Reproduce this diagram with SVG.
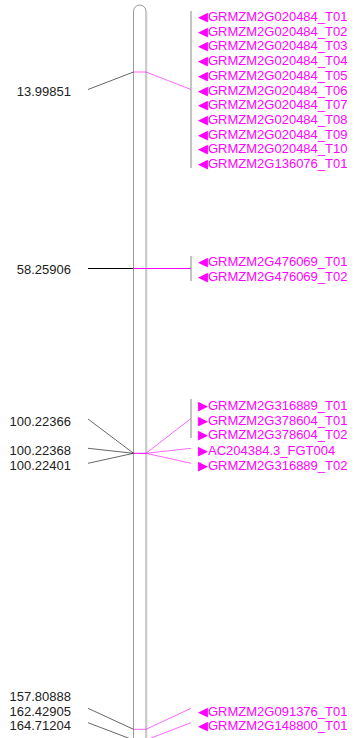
<svg xmlns="http://www.w3.org/2000/svg" width="354" height="738" viewBox="0 0 354 738">
<style>
text{font-family:"Liberation Sans","DejaVu Sans",Arial,sans-serif;font-size:13px}
.lbl{fill:#222;text-anchor:end}
.gene{fill:#ff00ff}
.kl{stroke:#000;stroke-width:0.6;fill:none}
.ml{stroke:#ff00ff;stroke-width:0.6;fill:none}
.bar{stroke:#888;stroke-width:1;fill:none}
</style>
<rect width="354" height="738" fill="#fff"/>
<g id="chromosome">
<path d="M133.5,740 V11.3 A6.25,6.25 0 0 1 146,11.3 V740" fill="none" stroke="#9a9a9a" stroke-width="1"/>
<line x1="146.3" y1="11.5" x2="146.3" y2="740" stroke="#cccccc" stroke-width="2"/>
</g>
<g id="connectors">
<polyline class="kl" points="88,89.5 133.5,72"/>
<polyline class="ml" points="133.5,72 146,72 191,89.5"/>
<polyline class="kl" points="88,268.5 133.5,268.5" style="stroke-width:1"/>
<polyline class="ml" points="133.5,268.5 191,268.5" style="stroke-width:1"/>
<polyline class="kl" points="88,419 133.5,453.3"/>
<polyline class="kl" points="88,448.3 133.5,453.3"/>
<polyline class="kl" points="88,463.3 133.5,453.3"/>
<polyline class="ml" points="133.5,453.3 146,453.3" style="stroke-width:1"/>
<polyline class="ml" points="146,453.3 191,418.5"/>
<polyline class="ml" points="146,453.3 191,448.3"/>
<polyline class="ml" points="146,453.3 191,463.3"/>
<polyline class="kl" points="88,708.3 133.5,729.3"/>
<polyline class="kl" points="88,722.7 133.5,740"/>
<polyline class="ml" points="133.5,729.3 146,729.3 191,708.3"/>
<polyline class="ml" points="146,740 191,722.7"/>
</g>
<g id="pos1">
<text class="lbl" x="71" y="95.7">13.99851</text>
</g>
<g id="genes1">
<line class="bar" x1="191" y1="11" x2="191" y2="168"/>
<text class="gene" x="198" y="21">◀GRMZM2G020484_T01</text>
<text class="gene" x="198" y="35.7">◀GRMZM2G020484_T02</text>
<text class="gene" x="198" y="50.4">◀GRMZM2G020484_T03</text>
<text class="gene" x="198" y="65.1">◀GRMZM2G020484_T04</text>
<text class="gene" x="198" y="79.8">◀GRMZM2G020484_T05</text>
<text class="gene" x="198" y="94.5">◀GRMZM2G020484_T06</text>
<text class="gene" x="198" y="109.2">◀GRMZM2G020484_T07</text>
<text class="gene" x="198" y="123.9">◀GRMZM2G020484_T08</text>
<text class="gene" x="198" y="138.6">◀GRMZM2G020484_T09</text>
<text class="gene" x="198" y="153.3">◀GRMZM2G020484_T10</text>
<text class="gene" x="198" y="168">◀GRMZM2G136076_T01</text>
</g>
<g id="pos2">
<text class="lbl" x="71" y="274">58.25906</text>
</g>
<g id="genes2">
<line class="bar" x1="191" y1="256" x2="191" y2="281"/>
<text class="gene" x="198" y="265.8">◀GRMZM2G476069_T01</text>
<text class="gene" x="198" y="280.5">◀GRMZM2G476069_T02</text>
</g>
<g id="pos3">
<text class="lbl" x="71" y="426.4">100.22366</text>
<text class="lbl" x="71" y="455.4">100.22368</text>
<text class="lbl" x="71" y="470.4">100.22401</text>
</g>
<g id="genes3">
<line class="bar" x1="191" y1="399" x2="191" y2="438"/>
<text class="gene" x="198" y="409.7">▶GRMZM2G316889_T01</text>
<text class="gene" x="198" y="424.6">▶GRMZM2G378604_T01</text>
<text class="gene" x="198" y="439.3">▶GRMZM2G378604_T02</text>
<text class="gene" x="198" y="454.6">▶AC204384.3_FGT004</text>
<text class="gene" x="198" y="469.6">▶GRMZM2G316889_T02</text>
</g>
<g id="pos4">
<text class="lbl" x="71" y="701.4">157.80888</text>
<text class="lbl" x="71" y="715.7">162.42905</text>
<text class="lbl" x="71" y="730.4">164.71204</text>
</g>
<g id="genes4">
<text class="gene" x="198" y="715.5">◀GRMZM2G091376_T01</text>
<text class="gene" x="198" y="730.2">◀GRMZM2G148800_T01</text>
</g>
</svg>
